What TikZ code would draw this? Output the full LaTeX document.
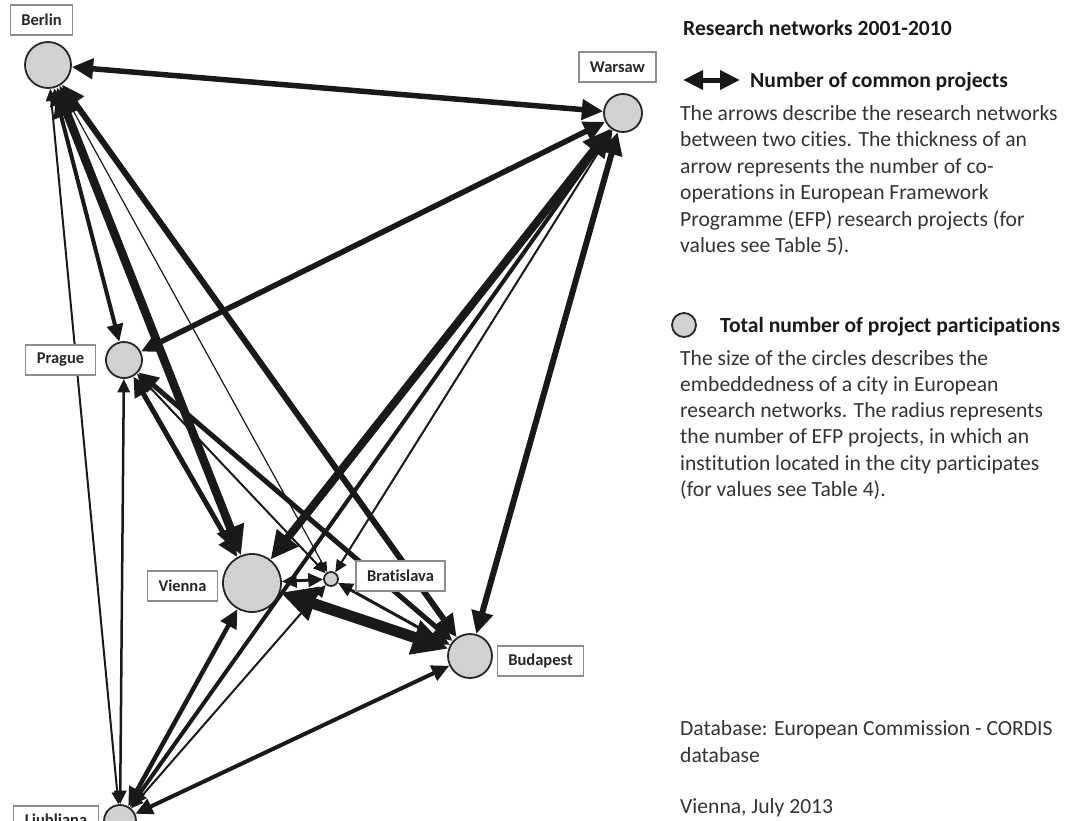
\documentclass[tikz,border=0pt]{standalone}
\usepackage{fontspec}
\setmainfont{Carlito}[Ligatures=NoCommon]
\usetikzlibrary{arrows.meta}

\begin{document}
\begin{tikzpicture}[x=1pt,y=-1pt,
  city/.style={circle, draw=black!85, line width=1.8pt, fill=black!18, inner sep=0pt, minimum size=#1},
  tag/.style={draw=black!45, line width=1.3pt, fill=white, inner xsep=11pt, minimum height=30pt,
    font=\fontsize{16.5}{18}\selectfont\bfseries, text=black!85},
  link/.style={line width=#1, black!90,
    {Triangle[length=7pt 2.6, width=6pt 2.5]}-{Triangle[length=7pt 2.6, width=6pt 2.5]}},
  txt/.style={anchor=base west, inner sep=0pt, font=\fontsize{21.6}{26.5}\selectfont, text=black!80},
  head/.style={txt, font=\fontsize{21.6}{26.5}\selectfont\bfseries, text=black!90}]
  \useasboundingbox (0,0) rectangle (1078,820);

  % cities, size = participations
  \node[city=46pt] (berlin) at (48,65) {};
  \node[city=38pt] (warsaw) at (623,113) {};
  \node[city=36pt] (prague) at (124,360) {};
  \node[city=58pt] (vienna) at (252,583) {};
  \node[city=14pt] (bratislava) at (331,579) {};
  \node[city=44pt] (budapest) at (470,656) {};
  \node[city=32pt] (ljubljana) at (120,821) {};

  % common projects
  \foreach \a/\b/\w in {berlin/warsaw/5.5, berlin/prague/4, berlin/vienna/8.5, berlin/bratislava/1.2,
      berlin/budapest/6, berlin/ljubljana/2, warsaw/prague/5.5, warsaw/vienna/8,
      warsaw/bratislava/2, warsaw/budapest/6, warsaw/ljubljana/4, prague/vienna/5,
      prague/bratislava/2, prague/budapest/5, prague/ljubljana/2.5, vienna/bratislava/3,
      vienna/budapest/11, vienna/ljubljana/4.5, bratislava/budapest/3,
      bratislava/ljubljana/2, budapest/ljubljana/4}
    \draw[link=\w pt] (\a) -- (\b);

  % name tags
  \node[tag] (berlintag) at (41.5,20) {Berlin};
  \node[tag] (warsawtag) at (617.5,67) {Warsaw};
  \node[tag] (praguetag) at (60.5,360) {Prague};
  \node[tag] (viennatag) at (182.5,586) {Vienna};
  \node[tag] (bratislavatag) at (400.5,576) {Bratislava};
  \node[tag] (budapesttag) at (540.5,661) {Budapest};
  \node[tag] (ljubljanatag) at (56,821) {Ljubljana};

  % legend
  \node[head] (title) at (683,35) {Research networks 2001-2010};
  \coordinate (keyl) at (683,80);
  \coordinate (keyr) at (740,80);
  \draw[link=5pt] (keyl) -- (keyr);
  \node[head] (arrowhead) at (750,87) {Number of common projects};
  \foreach \line [count=\i from 0] in {The arrows describe the research networks,
      between two cities. The thickness of an, arrow represents the number of co-,
      operations in European Framework, Programme (EFP) research projects (for,
      values see Table 5).}
    \node[txt] (arrowline\i) at (680,120+26.5*\i) {\line};
  \node[city=24pt] (keycircle) at (684,325) {};
  \node[head] (circlehead) at (720,332) {Total number of project participations};
  \foreach \line [count=\i from 0] in {The size of the circles describes the,
      embeddedness of a city in European, research networks. The radius represents,
      {the number of EFP projects, in which an},
      institution located in the city participates, (for values see Table 4).}
    \node[txt] (circleline\i) at (680,365+26.3*\i) {\line};
  \node[txt] (source) at (680,735) {Database: European Commission - CORDIS};
  \node[txt] (source2) at (680,762) {database};
  \node[txt] (place) at (680,813) {Vienna, July 2013};
\end{tikzpicture}
\end{document}
